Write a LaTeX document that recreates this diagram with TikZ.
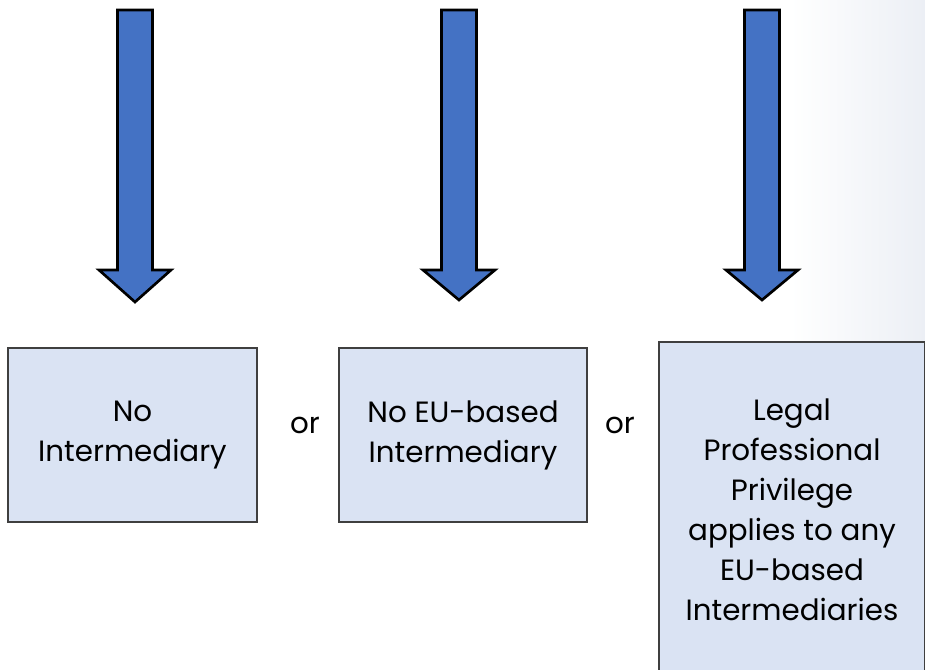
\documentclass[tikz,border=0pt]{standalone}
\usepackage{fontspec}
\setmainfont{Poppins}
\usetikzlibrary{positioning}
\newdimen\px
\px=0.75pt

\definecolor{arrowBlue}{HTML}{4472C4}
\definecolor{boxFill}{HTML}{DAE3F3}
\definecolor{boxLine}{HTML}{3F3F3F}
\definecolor{sheen}{HTML}{ECEFF5}

\begin{document}
\begin{tikzpicture}[
    x=\px, y=-\px,
    every node/.style={font=\fontsize{22}{30}\selectfont},
    blockarrow/.style={%
      draw=black,
      fill=arrowBlue,
      line width=2pt,
      line join=miter,
    },
    optionbox/.style={%
      draw=boxLine,
      fill=boxFill,
      line width=1.1pt,
      rectangle,
      align=center,
      inner sep=0pt,
    },
  ]

    \useasboundingbox (0,0) rectangle (925,669);
    \clip (0,0) rectangle (925,669);
    \shade[left color=white, right color=sheen] (790,0) rectangle (925,669);

    \draw [blockarrow] (117.5,10) -- (152.5,10) -- (152.5,270) -- (171,270)
      -- (135,302) -- (99,270) -- (117.5,270) -- cycle;
    \draw [blockarrow] (441.5,10) -- (476.5,10) -- (476.5,270) -- (495,270)
      -- (459,300) -- (423,270) -- (441.5,270) -- cycle;
    \draw [blockarrow] (744.5,10) -- (779.5,10) -- (779.5,270) -- (798,270)
      -- (762,300) -- (726,270) -- (744.5,270) -- cycle;

    \node [optionbox, minimum width=249\px, minimum height=174\px] (none) at (132.5,435)
      {No\\Intermediary};
    \node [optionbox, minimum width=248\px, minimum height=174\px] (noeu) at (463,435)
      {No EU-based\\Intermediary};
    \node [optionbox, minimum width=266\px, minimum height=336\px] (lpp) at (792,510)
      {Legal\\Professional\\Privilege\\applies to any\\EU-based\\Intermediaries};

    \node (or1) at (305,425) {or};
    \node (or2) at (620,425) {or};
\end{tikzpicture}
\end{document}
